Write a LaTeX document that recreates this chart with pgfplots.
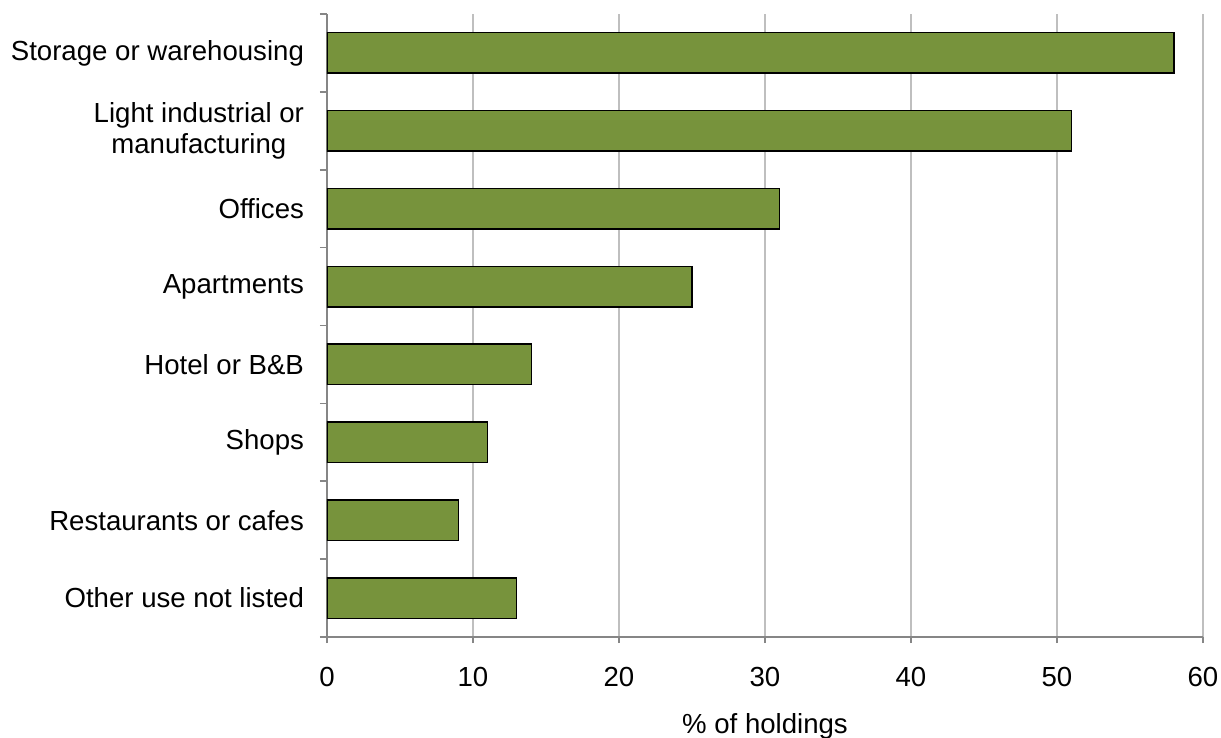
\documentclass[border=0pt]{standalone}
\usepackage{pgfplots}
\pgfplotsset{compat=1.18}
\usepackage{fontspec}
\setmainfont{Liberation Sans}
\definecolor{barg}{HTML}{77933C}
\definecolor{axg}{HTML}{868686}
\definecolor{gridg}{HTML}{BFBFBF}
\begin{document}
\begin{tikzpicture}
\begin{axis}[name=ax, scale only axis, width=438pt, height=311.5pt,
  xbar, bar width=0.52, xmin=0, xmax=60, ymin=-0.5, ymax=7.5, y dir=reverse,
  axis x line*=bottom, axis y line*=left,
  axis line style={-, axg, line width=0.8pt},
  xtick={0,10,...,60}, ytick={0,...,7},
  minor ytick={-0.5,0.5,...,7.5},
  yticklabels={Storage or warehousing, {Light industrial or\\manufacturing}, Offices, Apartments, Hotel or B\&B, Shops, Restaurants or cafes, Other use not listed},
  tick align=outside,
  major x tick style={axg, line width=0.8pt},
  major y tick style={draw=none},
  minor y tick style={axg, line width=0.8pt},
  major tick length=3pt, minor tick length=3.5pt,
  xmajorgrids, grid style={gridg, line width=0.6pt},
  /pgf/number format/assume math mode=true,
  tick label style={font=\fontsize{13.8}{15.2}\selectfont},
  yticklabel style={align=center, xshift=-5pt},
  xticklabel style={yshift=-8.5pt},
  xlabel={\% of holdings},
  xlabel style={font=\fontsize{13.8}{15.2}\selectfont, yshift=-6.5pt},
]
\addplot[fill=barg, draw=black, line width=0.7pt] coordinates {
 (58,0) (51,1) (31,2) (25,3) (14,4) (11,5) (9,6) (13,7)};
\end{axis}
\pgfresetboundingbox
\path[use as bounding box] ([shift={(-163.5pt,-50.5pt)}]ax.south west) rectangle ([shift={(447pt,318.5pt)}]ax.south west);
\end{tikzpicture}
\end{document}
